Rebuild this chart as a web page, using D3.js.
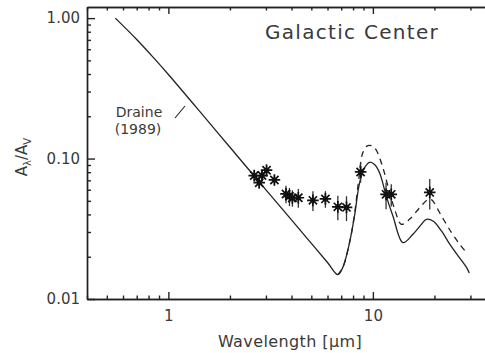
<!DOCTYPE html>
<html>
<head>
<meta charset="utf-8">
<script src="https://cdn.jsdelivr.net/npm/d3@7"></script>
<style>
  html, body { margin: 0; padding: 0; background: #fff; }
  svg { display: block; }
  text { font-family: "DejaVu Sans", sans-serif; fill: #3a3a3a; }
</style>
</head>
<body>
<svg id="chart" width="485" height="353"></svg>
<script>
// Draine (1989) extinction law, A_lambda / A_V
const draineLambda = [0.55, 0.7, 0.85, 1.0, 1.5, 2.0, 3.0, 4.0, 5.0, 6.0, 6.74, 7.13, 7.69, 8.13,
  8.61, 9.10, 9.63, 10.19, 10.78, 11.63, 12.53, 14.03, 15.7, 17.27, 18.27, 19.68, 21.65, 23.8,
  26.1, 28.7, 29.6];
const draineValue = [1.00, 0.705, 0.519, 0.397, 0.198, 0.1204, 0.0599, 0.0366, 0.0249, 0.0182,
  0.0149, 0.0168, 0.0252, 0.0390, 0.0672, 0.0859, 0.0941, 0.0906, 0.0792, 0.0540, 0.0390, 0.0252,
  0.0289, 0.0340, 0.0369, 0.0359, 0.0305, 0.0245, 0.0203, 0.0168, 0.0153];

// Modified silicate features (dashed)
const modLambda = [6.74, 7.13, 7.69, 8.13, 8.50, 8.93, 9.45, 10.0, 10.46, 11.2, 11.85, 12.78,
  13.78, 15.1, 16.94, 18.6, 19.3, 21.65, 24.2, 26.6, 29.2];
const modValue = [0.0149, 0.0168, 0.0252, 0.0400, 0.068, 0.1098, 0.1237, 0.1223, 0.1127, 0.0859,
  0.0636, 0.0435, 0.0340, 0.0369, 0.0447, 0.0512, 0.0512, 0.0390, 0.0298, 0.0245, 0.0208];

// Galactic Center measurements with errors
const obsLambda = [2.63, 2.87, 3.02, 2.78, 3.30, 3.76, 3.91, 4.04, 4.32, 5.09, 5.86, 6.74, 7.43,
  8.71, 11.6, 12.3, 18.97];
const obsValue = [0.0757, 0.0757, 0.0826, 0.0673, 0.0704, 0.0560, 0.0538, 0.0524, 0.0526, 0.0504,
  0.0516, 0.0453, 0.0449, 0.0803, 0.0556, 0.0556, 0.0574];
const obsError = [0.007, 0.007, 0.008, 0.006, 0.006, 0.008, 0.008, 0.007, 0.008, 0.008, 0.007,
  0.009, 0.009, 0.013, 0.012, 0.010, 0.014];

const xMajor = [1, 10];
const xMinor = [0.4, 0.5, 0.6, 0.7, 0.8, 0.9, 2, 3, 4, 5, 6, 7, 8, 9, 20, 30, 40];
const yMajor = [0.01, 0.1, 1];
const yMinor = [0.02, 0.03, 0.04, 0.05, 0.06, 0.07, 0.08, 0.09, 0.2, 0.3, 0.4, 0.5, 0.6, 0.7, 0.8, 0.9];

const svg = d3.select("#chart");
const plotLeft = 87, plotRight = 496, plotTop = 7, plotBottom = 299;

const x = d3.scaleLog().domain([0.4, 40]).range([plotLeft, plotRight]);
const y = d3.scaleLog().domain([0.01, 1.2]).range([plotBottom, plotTop]);

const ink = "#222";

function styleAxis(g) {
  g.selectAll(".domain").attr("stroke", ink).attr("stroke-width", 1.4);
  g.selectAll(".tick line").attr("stroke", ink).attr("stroke-width", 1.4);
  g.selectAll(".tick text").style("font-size", "15px").attr("fill", "#3a3a3a")
    .style("font-family", '"DejaVu Sans", sans-serif');
}

// Bottom axis
svg.append("g").attr("transform", `translate(0,${plotBottom})`)
  .call(d3.axisBottom(x).tickValues(xMajor).tickSize(-7).tickSizeOuter(0).tickPadding(11)
    .tickFormat(d3.format("d")))
  .call(styleAxis);
svg.append("g").attr("transform", `translate(0,${plotBottom})`)
  .call(d3.axisBottom(x).tickValues(xMinor).tickSize(-3.5).tickSizeOuter(0).tickFormat(""))
  .call(styleAxis);

// Top axis
svg.append("g").attr("transform", `translate(0,${plotTop})`)
  .call(d3.axisTop(x).tickValues(xMajor).tickSize(-7).tickSizeOuter(0).tickFormat(""))
  .call(styleAxis);
svg.append("g").attr("transform", `translate(0,${plotTop})`)
  .call(d3.axisTop(x).tickValues(xMinor).tickSize(-3.5).tickSizeOuter(0).tickFormat(""))
  .call(styleAxis);

// Left axis
svg.append("g").attr("transform", `translate(${plotLeft},0)`)
  .call(d3.axisLeft(y).tickValues(yMajor).tickSize(-8).tickSizeOuter(0).tickPadding(7)
    .tickFormat(d3.format(".2f")))
  .call(styleAxis);
svg.append("g").attr("transform", `translate(${plotLeft},0)`)
  .call(d3.axisLeft(y).tickValues(yMinor).tickSize(-4).tickSizeOuter(0).tickFormat(""))
  .call(styleAxis);

// Curves
const line = d3.line().x(d => x(d[0])).y(d => y(d[1])).curve(d3.curveCatmullRom.alpha(0.5));

svg.append("path")
  .datum(draineLambda.map((l, i) => [l, draineValue[i]]))
  .attr("d", line).attr("fill", "none").attr("stroke", ink).attr("stroke-width", 1.3);

svg.append("path")
  .datum(modLambda.map((l, i) => [l, modValue[i]]))
  .attr("d", line).attr("fill", "none").attr("stroke", ink).attr("stroke-width", 1.3)
  .attr("stroke-dasharray", "6,5");

// Measurements: error bars and asterisks
const obs = obsLambda.map((l, i) => ({ l, v: obsValue[i], e: obsError[i] }));
const pts = svg.append("g");
pts.selectAll("line.err").data(obs).join("line").attr("class", "err")
  .attr("x1", d => x(d.l)).attr("x2", d => x(d.l))
  .attr("y1", d => y(d.v + d.e)).attr("y2", d => y(d.v - d.e))
  .attr("stroke", "#333").attr("stroke-width", 1.3);

const r = 5.8;
const star = d3.path();
for (let k = 0; k < 4; k++) {
  const a = k * Math.PI / 4;
  star.moveTo(-r * Math.cos(a), -r * Math.sin(a));
  star.lineTo(r * Math.cos(a), r * Math.sin(a));
}
const starG = pts.selectAll("g.star").data(obs).join("g").attr("class", "star")
  .attr("transform", d => `translate(${x(d.l)},${y(d.v)})`);
starG.append("path").attr("d", star.toString()).attr("stroke", "#111").attr("stroke-width", 1.7);
starG.append("circle").attr("r", 2.5).attr("fill", "#111");

// Annotations
svg.append("text").attr("x", 352).attr("y", 39).attr("text-anchor", "middle")
  .style("font-size", "20px").style("letter-spacing", "1.3px").text("Galactic Center");

svg.append("text").attr("x", 139).attr("y", 117).attr("text-anchor", "middle")
  .style("font-size", "14px").text("Draine");
svg.append("text").attr("x", 138).attr("y", 134).attr("text-anchor", "middle")
  .style("font-size", "14px").text("(1989)");
svg.append("line").attr("x1", 175).attr("y1", 118).attr("x2", 185).attr("y2", 106)
  .attr("stroke", ink).attr("stroke-width", 1.1);

// Axis titles
svg.append("text").attr("x", 290).attr("y", 347).attr("text-anchor", "middle")
  .style("font-size", "16px").style("letter-spacing", "0.4px").text("Wavelength [µm]");

const yt = svg.append("text").attr("transform", "translate(27,157) rotate(-90)")
  .attr("text-anchor", "middle").style("font-size", "15px");
yt.append("tspan").text("A");
yt.append("tspan").attr("dy", 4).style("font-size", "10px").text("λ");
yt.append("tspan").attr("dy", -4).text("/A");
yt.append("tspan").attr("dy", 4).style("font-size", "10px").text("V");
</script>
</body>
</html>
